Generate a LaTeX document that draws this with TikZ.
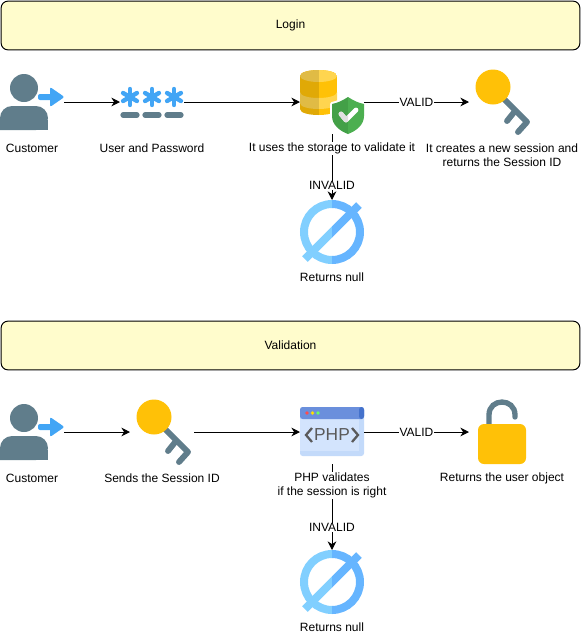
\documentclass[tikz,border=0pt]{standalone}
\usepackage{fontspec}
\setmainfont{Liberation Sans}
\usetikzlibrary{arrows.meta}

\definecolor{slate}{HTML}{607D8B}
\definecolor{sky}{HTML}{42A5F5}
\definecolor{amber}{HTML}{FFC107}
\definecolor{amberlight}{HTML}{FFD54F}
\definecolor{nulllight}{HTML}{81CFFF}
\definecolor{nulldark}{HTML}{66B5FF}
\definecolor{shieldleft}{HTML}{43A047}
\definecolor{shieldright}{HTML}{4CAF50}
\definecolor{phpbody}{HTML}{D3E4FD}
\definecolor{phpedge}{HTML}{C3DAFA}
\definecolor{phpbar}{HTML}{6A8FDC}
\definecolor{phpcorner}{HTML}{4472CC}
\definecolor{phptext}{HTML}{5A5A5A}

\tikzset{
    titlebox/.style={draw=black,fill=yellow!20,rounded corners=5pt,line width=.75pt,
        minimum width=434pt,minimum height=36.5pt,inner sep=0,font=\fontsize{9pt}{10.5pt}\selectfont},
    icon/.style={minimum size=48pt,inner sep=0,outer sep=0},
    caption/.style={fill=white,inner sep=1pt,align=center,font=\fontsize{9pt}{10.5pt}\selectfont},
    edgetext/.style={caption,inner sep=.5pt},
    link/.style={-{Stealth[length=6.5pt,width=6.5pt]},line width=.75pt}
}

\newcommand{\drawCustomer}[1]{
    \begin{scope}[shift={(#1)}]
        \fill[slate] (-8,-14) circle[radius=14];
        \fill[slate,rounded corners=9pt] (-32,28) -- (-32,4) -- (16,4) -- (16,28) [sharp corners] -- cycle;
        \fill[slate] (-32,18) rectangle (16,28);
        \fill[sky,rounded corners=1.5pt] (6,-8) rectangle (22,-2);
        \fill[sky,rounded corners=1.5pt] (18,-15) -- (32.5,-5) -- (18,5) -- cycle;
    \end{scope}
}
\newcommand{\drawPassword}[1]{
    \begin{scope}[shift={(#1)}]
        \foreach \px in {-22,0,22} {
            \foreach \pa in {90,30,150} {
                \draw[sky,line width=3.3pt,line cap=round]
                    (\px,-5) ++(\pa:8) -- ++(\pa+180:16);
            }
        }
        \foreach \px in {-22,0,22} {
            \draw[slate,line width=3.9pt,line cap=round] (\px-7,13) -- (\px+7,13);
        }
    \end{scope}
}
\newcommand{\drawStorage}[1]{
    \begin{scope}[shift={(#1)}]
        % cylinder
        \begin{scope}
            \clip (-32,-26) -- (-32,7) .. controls (-32,15) and (5,15) .. (5,7) -- (5,-26)
                .. controls (5,-34) and (-32,-34) .. (-32,-26) -- cycle;
            \fill[amber] (-32,-34) rectangle (5,16);
            \fill[amberlight] (-13.5,-26) ellipse[x radius=18.5,y radius=6];
            \fill[amberlight] (-32,-10) .. controls (-32,-2) and (5,-2) .. (5,-10) -- (5,1)
                .. controls (5,9) and (-32,9) .. (-32,1) -- cycle;
            \fill[black,opacity=.12] (-32,-34) rectangle (-13.5,16);
        \end{scope}
        % shield
        \draw[white,line width=3pt,line join=round] (16,-5) .. controls (10,-1) and (5,1) .. (0,2) -- (0,14)
            .. controls (0,23) and (8,29) .. (16,32) .. controls (24,29) and (32,23) .. (32,14) -- (32,2)
            .. controls (27,1) and (22,-1) .. (16,-5) -- cycle;
        \fill[shieldleft] (16,-5) .. controls (10,-1) and (5,1) .. (0,2) -- (0,14)
            .. controls (0,23) and (8,29) .. (16,32) -- cycle;
        \fill[shieldright] (16,-5) .. controls (22,-1) and (27,1) .. (32,2) -- (32,14)
            .. controls (32,23) and (24,29) .. (16,32) -- cycle;
        \draw[white,line width=3.6pt,line cap=round,line join=round] (9,12) -- (14,18) -- (24,8);
        \begin{scope}
            \clip (0,0) rectangle (16,32);
            \draw[black!12,line width=3.6pt,line cap=round,line join=round] (9,12) -- (14,18) -- (24,8);
        \end{scope}
    \end{scope}
}
\newcommand{\drawKey}[1]{
    \begin{scope}[shift={(#1)}]
        \draw[slate,line width=4.4pt,line cap=round,line join=round] (3,-3) -- (26,20) -- (17,30);
        \draw[slate,line width=4.4pt,line cap=round] (14,9) -- (6,19);
        \fill[amber] (-8,-15) circle[radius=17.5];
    \end{scope}
}
\newcommand{\drawNull}[1]{
    \begin{scope}[shift={(#1)}]
        \begin{scope}
            \clip (-33,-33) rectangle (0,33);
            \draw[nulllight,line width=6pt] (0,0) circle[radius=28];
            \draw[nulllight,line width=6pt] (-27,27) -- (27,-27);
        \end{scope}
        \begin{scope}
            \clip (0,-33) rectangle (33,33);
            \draw[nulldark,line width=6pt] (0,0) circle[radius=28];
            \draw[nulldark,line width=6pt] (-27,27) -- (27,-27);
        \end{scope}
    \end{scope}
}
\newcommand{\drawPhp}[1]{
    \begin{scope}[shift={(#1)}]
        \fill[phpedge,rounded corners=2pt] (-32,-25) rectangle (32,24);
        \fill[phpbody] (-32,-13) rectangle (27,19);
        \fill[phpbar,rounded corners=2pt] (-32,-25) rectangle (32,-13);
        \fill[phpcorner,rounded corners=2pt] (27,-25) rectangle (32,-13);
        \fill[red!70!white] (-25,-19) circle[radius=1.8];
        \fill[yellow!80!orange] (-19.5,-19) circle[radius=1.8];
        \fill[green!60!white] (-14,-19) circle[radius=1.8];
        \node[text=phptext,font=\fontsize{13pt}{13pt}\selectfont] at (0,3) {PHP};
        \draw[phptext,line width=1.7pt] (-20,-4) -- (-26,3) -- (-20,10);
        \draw[phptext,line width=1.7pt] (20,-4) -- (26,3) -- (20,10);
    \end{scope}
}
\newcommand{\drawLock}[1]{
    \begin{scope}[shift={(#1)}]
        \draw[slate,line width=4pt,line cap=round] (-12,-6) -- (-12,-17)
            .. controls (-12,-34.3) and (14,-34.3) .. (14,-17) -- (14,-15);
        \fill[amber,rounded corners=4.5pt] (-23,-8) rectangle (25,32);
    \end{scope}
}

\begin{document}
\begin{tikzpicture}[x=.75pt,y=-.75pt]
    \useasboundingbox (0,0) rectangle (581,636);

    % Login
    \node[titlebox] (login) at (290.5,25.5) {Login};
    \node[icon] (customerA) at (32,102) {};
    \node[icon] (password) at (152,102) {};
    \node[icon] (storage) at (332,102) {};
    \node[icon] (sessionA) at (501,102) {};
    \node[icon] (nullA) at (332,232) {};
    \drawCustomer{customerA}
    \drawPassword{password}
    \drawStorage{storage}
    \drawKey{sessionA}
    \drawNull{nullA}

    \draw[link] (customerA) -- (password);
    \draw[link] (password) -- (storage);
    \draw[link] (storage) -- node[edgetext] (validA) {VALID} (sessionA);
    \draw[link] (storage) -- (nullA);

    \node[caption] (customerAtext) at (32,148.5) {Customer};
    \node[caption] (passwordtext) at (152,148.5) {User and Password};
    \node[caption] (storagetext) at (332,148.5) {It uses the storage to validate it};
    \node[caption] (sessionAtext) at (502,155.5) {It creates a new session and\\returns the Session ID};
    \node[edgetext] (invalidA) at (332,185.5) {INVALID};
    \node[caption] (nullAtext) at (332,277.5) {Returns null};

    % Validation
    \node[titlebox] (validation) at (290.5,345.5) {Validation};
    \node[icon] (customerB) at (32,432) {};
    \node[icon] (sessionB) at (162,432) {};
    \node[icon] (php) at (332,432) {};
    \node[icon] (lock) at (501,432) {};
    \node[icon] (nullB) at (332,582) {};
    \drawCustomer{customerB}
    \drawKey{sessionB}
    \drawPhp{php}
    \drawLock{lock}
    \drawNull{nullB}

    \draw[link] (customerB) -- (sessionB);
    \draw[link] (sessionB) -- (php);
    \draw[link] (php) -- node[edgetext] (validB) {VALID} (lock);
    \draw[link] (php) -- (nullB);

    \node[caption] (customerBtext) at (32,478.5) {Customer};
    \node[caption] (sessionBtext) at (162,478.5) {Sends the Session ID};
    \node[caption] (phptext) at (332,485.5) {PHP validates\\if the session is right};
    \node[caption] (locktext) at (502,478.5) {Returns the user object};
    \node[edgetext] (invalidB) at (332,527.5) {INVALID};
    \node[caption] (nullBtext) at (332,627.5) {Returns null};

\end{tikzpicture}
\end{document}
